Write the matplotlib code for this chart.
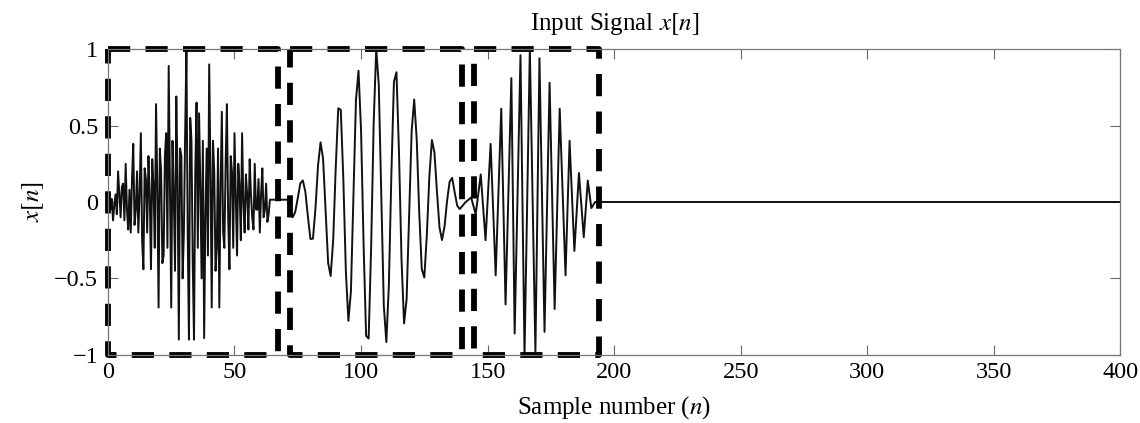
import numpy as np
import matplotlib
matplotlib.use('Agg')
import matplotlib.pyplot as plt

plt.rcParams['font.family'] = ['Liberation Serif', 'DejaVu Serif']
plt.rcParams['mathtext.fontset'] = 'stix'
plt.rcParams['lines.scale_dashes'] = False

# Signal values
# burst 1: noisy wideband part, n = 0..64 in half steps
seg1_n = np.arange(0, 64.5, 0.5)
seg1_x = [0.00, 0.03, -0.05, 0.02, -0.12, -0.02, 0.05, -0.08, 0.20, 0.05,
          -0.10, 0.10, 0.12, -0.12, 0.25, -0.05, -0.18, 0.08, -0.20, 0.15,
          0.38, -0.15, -0.05, 0.20, -0.20, 0.05, 0.45, -0.25, -0.44, 0.22,
          0.15, -0.20, 0.30, 0.05, -0.44, 0.28, 0.10, -0.30, 0.64, 0.10,
          -0.69, 0.35, 0.20, -0.40, -0.35, 0.30, 0.45, -0.30, 0.89, 0.10,
          -0.69, 0.40, 0.05, -0.45, 0.69, 0.15, -0.90, 0.35, 0.30, -0.50,
          -0.20, 0.45, 1.00, -0.20, -0.90, 0.55, 0.40, -0.40, -0.90, 0.20,
          0.65, -0.30, 0.58, 0.10, -0.50, 0.40, -0.89, -0.10, 0.35, -0.35,
          0.90, 0.20, -0.69, 0.40, 0.20, -0.45, -0.30, 0.35, -0.69, 0.10,
          0.59, -0.20, -0.30, 0.25, 0.64, -0.10, -0.44, 0.30, 0.20, -0.30,
          0.45, 0.05, -0.35, 0.25, 0.10, -0.25, 0.45, 0.00, -0.20, 0.18,
          0.05, -0.18, 0.28, 0.05, -0.10, -0.18, 0.25, -0.05, -0.05, 0.15,
          -0.20, 0.05, 0.22, -0.10, -0.05, 0.12, -0.13, -0.08, 0.015]

# flat stretch between burst 1 and 2
gap_n = [65, 71]
gap_x = [0.015, 0.015]

# burst 2: low-frequency windowed tone, samples n = 72..141
seg2_n = np.arange(72, 142)
seg2_x = [-0.058, -0.100, -0.065, 0.025, 0.122, 0.141, 0.067, -0.095, -0.242, -0.240,
          -0.041, 0.238, 0.390, 0.284, -0.058, -0.398, -0.484, -0.248, 0.224, 0.613,
          0.602, 0.153, -0.452, -0.777, -0.585, 0.036, 0.669, 0.858, 0.472, -0.272,
          -0.875, -0.893, -0.289, 0.520, 1.000, 0.770, 0.041, -0.679, -0.916, -0.541,
          0.190, 0.786, 0.849, 0.321, -0.379, -0.794, -0.638, -0.091, 0.463, 0.670,
          0.409, -0.072, -0.439, -0.494, -0.216, 0.168, 0.405, 0.323, 0.067, -0.167,
          -0.249, -0.159, 0.008, 0.132, 0.158, 0.063, -0.024, -0.046, -0.027, -0.006]

# burst 3: higher-frequency windowed tone (peaks / troughs)
seg3_n = [143.5, 145.3, 147.3, 149.2, 151.2, 153.2, 155.4, 157.1, 159.4, 160.7,
          163.0, 164.6, 166.7, 168.9, 170.5, 172.5, 174.5, 176.5, 178.5, 180.8,
          182.4, 184.3, 186.1, 188.0, 189.6, 191.0, 192.5]
seg3_x = [0.03, -0.08, 0.18, -0.25, 0.38, -0.48, 0.61, -0.67, 0.81, -0.86,
          0.96, -1.00, 1.00, -0.98, 0.94, -0.85, 0.78, -0.70, 0.61, -0.48,
          0.40, -0.32, 0.19, -0.23, 0.14, -0.04, 0.00]

# silence afterwards
tail_n = [194, 400]
tail_x = [0.0, 0.0]

# dashed boxes around the three bursts (n start, n end)
box_starts = [0, 72, 144.5]
box_ends = [67, 140, 194]

xticks = [0, 50, 100, 150, 200, 250, 300, 350, 400]
yticks = [-1, -0.5, 0, 0.5, 1]
ytick_labels = ['\u22121', '\u22120.5', '0', '0.5', '1']

n = np.concatenate([seg1_n, gap_n, seg2_n, seg3_n, tail_n])
x = np.concatenate([seg1_x, gap_x, seg2_x, seg3_x, tail_x])

fig = plt.figure(figsize=(11.4, 4.23), dpi=100)
ax = fig.add_axes([0.0947, 0.161, 0.888, 0.723])

ax.plot(n, x, color='#111111', lw=1.4)

for a, b in zip(box_starts, box_ends):
    ax.plot([a, b, b, a, a], [1, 1, -1, -1, 1], color='black', lw=4.2,
            linestyle=(0, (16, 11)), clip_on=False, solid_capstyle='butt')

ax.set_xlim(0, 400)
ax.set_ylim(-1, 1)
ax.set_xticks(xticks)
ax.set_yticks(yticks)
ax.set_yticklabels(ytick_labels)
ax.tick_params(direction='in', length=7, width=0.8, color='#666666',
               top=True, right=True, labelsize=17.5)
ax.tick_params(axis='y', pad=7)
ax.tick_params(axis='x', pad=5)
for s in ax.spines.values():
    s.set_color('#777777')
    s.set_linewidth(0.9)

ax.set_title('Input Signal $x[n]$', fontsize=18, pad=14)
ax.set_xlabel('Sample number ($n$)', fontsize=18, labelpad=8)
ax.set_ylabel('$x[n]$', fontsize=18, labelpad=6)

fig.savefig('out.png', dpi=100)
